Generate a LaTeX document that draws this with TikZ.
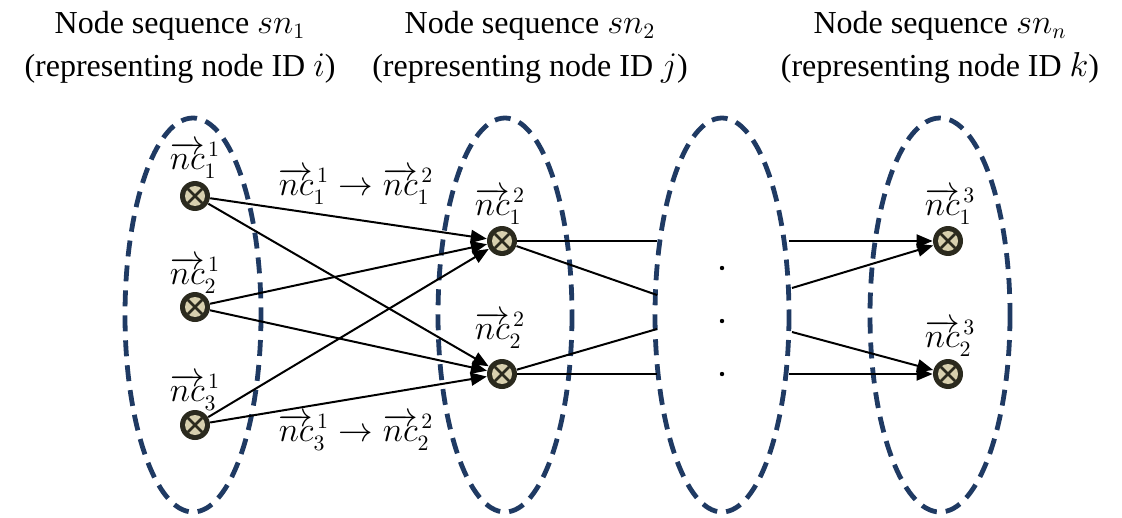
\documentclass[tikz,border=0pt]{standalone}
\usepackage{fontspec,amsmath}
\setmainfont{Liberation Serif}
\usetikzlibrary{arrows.meta}
\definecolor{seqblue}{HTML}{1F3A63}
\definecolor{ncdark}{HTML}{2B2A1E}
\definecolor{ncbeige}{HTML}{D8D0AE}
\newcommand{\nc}[2]{\overrightarrow{nc}_{#1}^{\,#2}}
\tikzset{
  seq/.style={draw=seqblue,line width=2.4pt,dash pattern=on 8pt off 4.5pt},
  ncnode/.style={circle,fill=ncdark,minimum size=15pt,inner sep=0pt,
    path picture={
      \fill[ncbeige] (path picture bounding box.center) circle (5pt);
      \draw[ncdark,line width=1.3pt] ([shift={(-3.6pt,-3.6pt)}]path picture bounding box.center) -- ([shift={(3.6pt,3.6pt)}]path picture bounding box.center);
      \draw[ncdark,line width=1.3pt] ([shift={(-3.6pt,3.6pt)}]path picture bounding box.center) -- ([shift={(3.6pt,-3.6pt)}]path picture bounding box.center);
    }},
  lbl/.style={inner sep=0pt,font=\fontsize{16}{19}\selectfont},
  ttl/.style={align=center,inner sep=0pt,font=\fontsize{16}{21.5}\selectfont},
  link/.style={line width=1pt},
  arr/.style={line width=1pt,-{Triangle[length=8pt,width=6.5pt]}}
}
\begin{document}
\begin{tikzpicture}[x=0.5pt,y=-0.5pt]
\path[use as bounding box] (0,0) rectangle (1122,518);
% titles
\node[ttl] (t1) at (180,47) {Node sequence $sn_1$\\(representing node ID $i$)};
\node[ttl] (t2) at (530,47) {Node sequence $sn_2$\\(representing node ID $j$)};
\node[ttl] (t3) at (940,47) {Node sequence $sn_n$\\(representing node ID $k$)};
% sequences
\draw[seq] (193,315) ellipse (68 and 197);
\draw[seq] (505,315) ellipse (67 and 197);
\draw[seq] (722,315) ellipse (67 and 197);
\draw[seq] (940,315) ellipse (70 and 197);
% node sequence 1
\node[ncnode] (n11) at (195,196) {};
\node[ncnode] (n12) at (195,307) {};
\node[ncnode] (n13) at (195,425) {};
\node[lbl] (l11) at (195,160) {$\nc{1}{1}$};
\node[lbl] (l12) at (195,275) {$\nc{2}{1}$};
\node[lbl] (l13) at (195,392) {$\nc{3}{1}$};
% node sequence 2
\node[ncnode] (n21) at (502,241) {};
\node[ncnode] (n22) at (502,374) {};
\node[lbl] (l21) at (500,206) {$\nc{1}{2}$};
\node[lbl] (l22) at (500,330) {$\nc{2}{2}$};
% node sequence n
\node[ncnode] (n31) at (948,241) {};
\node[ncnode] (n32) at (948,374) {};
\node[lbl] (l31) at (950,206) {$\nc{1}{3}$};
\node[lbl] (l32) at (950,338) {$\nc{2}{3}$};
% dots
\fill (722,268) circle (2.2);
\fill (722,321) circle (2.2);
\fill (722,374) circle (2.2);
% edge labels
\node[lbl] (e1) at (356,186) {$\nc{1}{1}\rightarrow\nc{1}{2}$};
\node[lbl] (e2) at (356,432) {$\nc{3}{1}\rightarrow\nc{2}{2}$};
% connectors 1 -> 2
\draw[arr] (n11) -- (n21);
\draw[arr] (n11) -- (n22);
\draw[arr] (n12) -- (n21);
\draw[arr] (n12) -- (n22);
\draw[arr] (n13) -- (n21);
\draw[arr] (n13) -- (n22);
% connectors 2 -> ...
\coordinate (a1) at (657,241);
\coordinate (a2) at (657,295);
\coordinate (a3) at (657,329);
\coordinate (a4) at (657,374);
\draw[link] (n21) -- (a1);
\draw[link] (n21) -- (a2);
\draw[link] (n22) -- (a3);
\draw[link] (n22) -- (a4);
% connectors ... -> n
\coordinate (b1) at (789,241);
\coordinate (b2) at (792,288);
\coordinate (b3) at (792,332);
\coordinate (b4) at (789,374);
\draw[arr] (b1) -- (n31);
\draw[arr] (b2) -- (n31);
\draw[arr] (b3) -- (n32);
\draw[arr] (b4) -- (n32);
\end{tikzpicture}
\end{document}
